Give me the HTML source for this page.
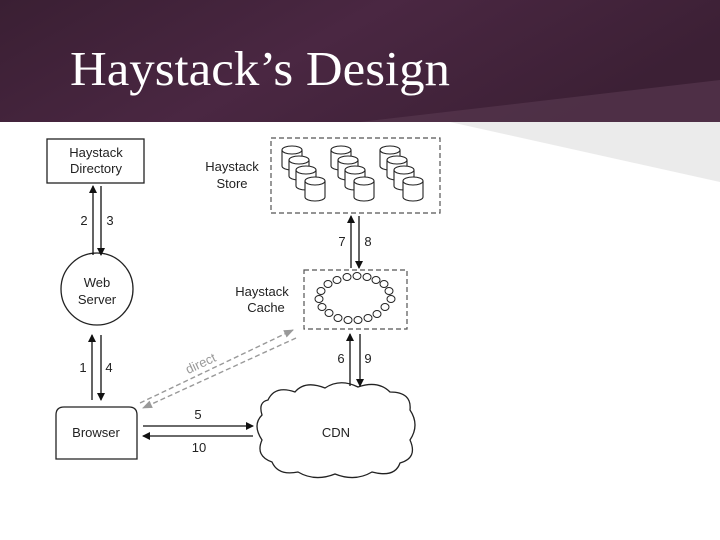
<!DOCTYPE html>
<html><head><style>
html,body{margin:0;padding:0;width:720px;height:540px;overflow:hidden;background:#fff}
</style></head><body>
<svg width="720" height="540" viewBox="0 0 720 540" xmlns="http://www.w3.org/2000/svg" font-family="Liberation Sans, sans-serif">
<defs>
<linearGradient id="hg" x1="0" y1="0" x2="1" y2="0.3">
<stop offset="0" stop-color="#3a1f33"/><stop offset="0.5" stop-color="#4a2742"/><stop offset="1" stop-color="#3c2035"/>
</linearGradient>
<marker id="a" markerWidth="8" markerHeight="8" refX="7" refY="4" orient="auto" markerUnits="userSpaceOnUse"><path d="M0,0 L8,4 L0,8z" fill="#111"/></marker>
<marker id="g" markerWidth="10" markerHeight="8" refX="9" refY="4" orient="auto" markerUnits="userSpaceOnUse"><path d="M0,0 L10,4 L0,8z" fill="#999"/></marker>
</defs>
<rect x="0" y="0" width="720" height="122" fill="url(#hg)"/>
<polygon points="360,122 720,80 720,122" fill="#5a3a52" opacity="0.6"/>
<polygon points="450,122 720,122 720,182" fill="#ebebeb"/>
<text x="70" y="85" font-family="Liberation Serif, serif" font-size="49" fill="#fff" textLength="380" lengthAdjust="spacingAndGlyphs">Haystack’s Design</text>

<g stroke="#222" fill="#fff" stroke-width="1.3">
<rect x="47" y="139" width="97" height="44" fill="#fff"/>
<circle cx="97" cy="289" r="36"/>
<path d="M56,459 V415 Q56,407 64,407 H129 Q137,407 137,415 V459 Z"/>
</g>
<g fill="none" stroke="#555" stroke-width="1.2" stroke-dasharray="5,3">
<rect x="271" y="138" width="169" height="75"/>
<rect x="304" y="270" width="103" height="59"/>
</g>
<path d="M268,400 Q275,385 295,392 Q305,380 325,388 Q340,378 358,387 Q378,380 390,392 Q412,392 410,410 Q420,425 410,440 Q418,458 400,463 Q395,478 372,472 Q355,482 335,474 Q315,482 298,472 Q278,476 272,462 Q255,456 262,440 Q252,425 262,415 Q258,402 268,400 Z" fill="#fff" stroke="#222" stroke-width="1.3"/>
<g font-size="13" fill="#222" text-anchor="middle">
<text x="96" y="157">Haystack</text><text x="96" y="173">Directory</text>
<text x="97" y="287">Web</text><text x="97" y="304">Server</text>
<text x="96" y="437">Browser</text>
<text x="232" y="171">Haystack</text><text x="232" y="188">Store</text>
<text x="262" y="296">Haystack</text><text x="266" y="312">Cache</text>
<text x="336" y="437">CDN</text>
</g>
<g stroke="#222" fill="#fff" stroke-width="1.1">
<g transform="translate(282,146)"><path d="M0,4 V20 A10,4 0 0 0 20,20 V4"/><ellipse cx="10" cy="4" rx="10" ry="4"/></g>
<g transform="translate(289,156)"><path d="M0,4 V20 A10,4 0 0 0 20,20 V4"/><ellipse cx="10" cy="4" rx="10" ry="4"/></g>
<g transform="translate(296,166)"><path d="M0,4 V20 A10,4 0 0 0 20,20 V4"/><ellipse cx="10" cy="4" rx="10" ry="4"/></g>
<g transform="translate(305,177)"><path d="M0,4 V20 A10,4 0 0 0 20,20 V4"/><ellipse cx="10" cy="4" rx="10" ry="4"/></g>
<g transform="translate(331,146)"><path d="M0,4 V20 A10,4 0 0 0 20,20 V4"/><ellipse cx="10" cy="4" rx="10" ry="4"/></g>
<g transform="translate(338,156)"><path d="M0,4 V20 A10,4 0 0 0 20,20 V4"/><ellipse cx="10" cy="4" rx="10" ry="4"/></g>
<g transform="translate(345,166)"><path d="M0,4 V20 A10,4 0 0 0 20,20 V4"/><ellipse cx="10" cy="4" rx="10" ry="4"/></g>
<g transform="translate(354,177)"><path d="M0,4 V20 A10,4 0 0 0 20,20 V4"/><ellipse cx="10" cy="4" rx="10" ry="4"/></g>
<g transform="translate(380,146)"><path d="M0,4 V20 A10,4 0 0 0 20,20 V4"/><ellipse cx="10" cy="4" rx="10" ry="4"/></g>
<g transform="translate(387,156)"><path d="M0,4 V20 A10,4 0 0 0 20,20 V4"/><ellipse cx="10" cy="4" rx="10" ry="4"/></g>
<g transform="translate(394,166)"><path d="M0,4 V20 A10,4 0 0 0 20,20 V4"/><ellipse cx="10" cy="4" rx="10" ry="4"/></g>
<g transform="translate(403,177)"><path d="M0,4 V20 A10,4 0 0 0 20,20 V4"/><ellipse cx="10" cy="4" rx="10" ry="4"/></g>
</g>
<g stroke="#222" fill="#fff" stroke-width="1">
<ellipse cx="391" cy="299" rx="4" ry="3.5"/><ellipse cx="389" cy="291" rx="4" ry="3.5"/><ellipse cx="384" cy="284" rx="4" ry="3.5"/><ellipse cx="376" cy="280" rx="4" ry="3.5"/><ellipse cx="367" cy="277" rx="4" ry="3.5"/><ellipse cx="357" cy="276" rx="4" ry="3.5"/><ellipse cx="347" cy="277" rx="4" ry="3.5"/><ellipse cx="337" cy="280" rx="4" ry="3.5"/><ellipse cx="328" cy="284" rx="4" ry="3.5"/><ellipse cx="321" cy="291" rx="4" ry="3.5"/><ellipse cx="319" cy="299" rx="4" ry="3.5"/><ellipse cx="322" cy="307" rx="4" ry="3.5"/><ellipse cx="329" cy="313" rx="4" ry="3.5"/><ellipse cx="338" cy="318" rx="4" ry="3.5"/><ellipse cx="348" cy="320" rx="4" ry="3.5"/><ellipse cx="358" cy="320" rx="4" ry="3.5"/><ellipse cx="368" cy="318" rx="4" ry="3.5"/><ellipse cx="377" cy="314" rx="4" ry="3.5"/><ellipse cx="385" cy="307" rx="4" ry="3.5"/>
</g>
<g stroke="#111" stroke-width="1.3" marker-end="url(#a)">
<line x1="93" y1="255" x2="93" y2="186"/>
<line x1="101" y1="186" x2="101" y2="255"/>
<line x1="92" y1="400" x2="92" y2="335"/>
<line x1="101" y1="335" x2="101" y2="400"/>
<line x1="351" y1="268" x2="351" y2="216"/>
<line x1="359" y1="216" x2="359" y2="268"/>
<line x1="350" y1="386" x2="350" y2="334"/>
<line x1="360" y1="334" x2="360" y2="386"/>
<line x1="143" y1="426" x2="253" y2="426"/>
<line x1="253" y1="436" x2="143" y2="436"/>
</g>
<g stroke="#999" stroke-width="1.4" stroke-dasharray="5,3" marker-end="url(#g)">
<line x1="140" y1="403" x2="293" y2="330"/>
<line x1="296" y1="338" x2="143" y2="408"/>
</g>
<g font-size="13" fill="#222" text-anchor="middle">
<text x="84" y="225">2</text><text x="110" y="225">3</text>
<text x="83" y="372">1</text><text x="109" y="372">4</text>
<text x="342" y="246">7</text><text x="368" y="246">8</text>
<text x="341" y="363">6</text><text x="368" y="363">9</text>
<text x="198" y="419">5</text><text x="199" y="452">10</text>
</g>
<text x="200" y="368" font-size="13" fill="#999" transform="rotate(-25 200 362)" text-anchor="middle">direct</text>
</svg>
</body></html>
